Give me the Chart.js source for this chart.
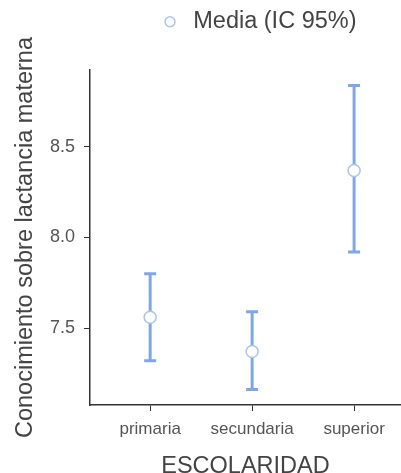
<!DOCTYPE html>
<html><head><meta charset="utf-8">
<script src="https://cdn.jsdelivr.net/npm/chart.js@4.4.0/dist/chart.umd.min.js"></script>
<style>html,body{margin:0;padding:0;background:#fff}#wrap{width:401px;height:473px}</style>
</head><body><div id="wrap"><canvas id="c" width="401" height="473"></canvas></div>
<script>
const categories = ["primaria", "secundaria", "superior"];
const means = [7.56, 7.37, 8.37];
const lower = [7.32, 7.16, 7.92];
const upper = [7.80, 7.59, 8.84];
const yTicks = [7.5, 8.0, 8.5];

const FONT = "'Liberation Sans', Arial, sans-serif";
const barColor = '#7EA6EC';

const errorBars = {
  id: 'errorBars',
  beforeDatasetsDraw(chart) {
    const {ctx, scales: {x, y}} = chart;
    ctx.save();
    ctx.strokeStyle = barColor;
    ctx.lineWidth = 3;
    ctx.lineCap = 'butt';
    categories.forEach((c, i) => {
      const px = x.getPixelForValue(i + 1);
      const pl = y.getPixelForValue(lower[i]);
      const pu = y.getPixelForValue(upper[i]);
      ctx.beginPath();
      ctx.moveTo(px, pl); ctx.lineTo(px, pu);
      ctx.moveTo(px - 6, pl); ctx.lineTo(px + 6, pl);
      ctx.moveTo(px - 6, pu); ctx.lineTo(px + 6, pu);
      ctx.stroke();
    });
    ctx.restore();
  }
};

const legendFit = {
  id: 'legendFit',
  beforeInit(chart) {
    const orig = chart.legend.fit;
    chart.legend.fit = function () { orig.call(this); this.height = 70; };
  },
  afterLayout(chart) {
    chart.legend.left += 57;
    chart.legend.right += 57;
  }
};

new Chart(document.getElementById('c'), {
  type: 'scatter',
  data: {
    datasets: [{
      label: 'Media (IC 95%)',
      data: means.map((m, i) => ({x: i + 1, y: m})),
      pointRadius: 6,
      pointHoverRadius: 6,
      pointBackgroundColor: '#ffffff',
      pointBorderColor: '#A9C3F2',
      pointBorderWidth: 1.5,
      backgroundColor: '#ffffff',
      borderColor: '#A9C3F2',
      clip: false
    }]
  },
  options: {
    responsive: false,
    animation: false,
    layout: {padding: 0, autoPadding: false},
    plugins: {
      tooltip: {enabled: false},
      legend: {
        position: 'top',
        labels: {
          usePointStyle: true,
          pointStyle: 'circle',
          boxWidth: 23, boxHeight: 7,
          color: '#444',
          font: {family: FONT, size: 23.5},
          padding: 10
        }
      }
    },
    scales: {
      x: {
        type: 'linear',
        min: 0.41, max: 3.46,
        afterBuildTicks(s) { s.ticks = [1, 2, 3].map(v => ({value: v})); },
        afterFit(s) { s.height = 68; s.paddingLeft = 0; s.paddingRight = 0; },
        ticks: {
          callback: (v) => categories[v - 1],
          color: '#555',
          font: {family: FONT, size: 17},
          padding: 8,
          maxRotation: 0
        },
        grid: {drawOnChartArea: false, drawTicks: true, tickLength: 6, color: '#333'},
        border: {display: true, color: '#333', width: 1.5},
        title: {display: true, text: 'ESCOLARIDAD', color: '#444', font: {family: FONT, size: 23.5}, padding: {top: 0, bottom: -8}}
      },
      y: {
        type: 'linear',
        min: 7.075, max: 8.925,
        afterBuildTicks(s) { s.ticks = yTicks.map(v => ({value: v})); },
        afterFit(s) { s.width = 90; s.paddingTop = 0; s.paddingBottom = 0; },
        ticks: {
          callback: (v) => v.toFixed(1),
          color: '#555',
          font: {family: FONT, size: 18},
          padding: 9
        },
        grid: {drawOnChartArea: false, drawTicks: true, tickLength: 6, color: '#333'},
        border: {display: true, color: '#333', width: 1.5},
        title: {display: true, text: 'Conocimiento sobre lactancia materna', color: '#444', font: {family: FONT, size: 23.5}, padding: {top: 11, bottom: 0}}
      }
    }
  },
  plugins: [legendFit, errorBars]
});
</script></body></html>
